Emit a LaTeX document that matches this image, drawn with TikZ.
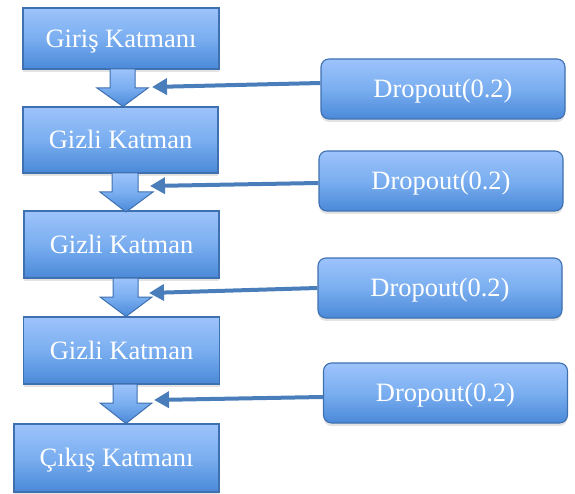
\documentclass[tikz,border=0pt]{standalone}
\usepackage{fontspec}
\setmainfont{Liberation Serif}
\usetikzlibrary{shadows,arrows.meta}
\definecolor{boxtop}{HTML}{9DC3FB}
\definecolor{boxmid}{HTML}{7AAEF0}
\definecolor{boxbot}{HTML}{4A89D8}
\definecolor{boxline}{HTML}{3F70B0}
\definecolor{linkblue}{HTML}{4A7EBB}
\tikzset{
  layerbox/.style={draw=boxline, line width=1.1pt, top color=boxtop,
    bottom color=boxbot, middle color=boxmid, text=white,
    font=\fontsize{26.5}{30}\selectfont, inner sep=0pt,
    text height=17.5pt, text depth=0pt,
    drop shadow={shadow xshift=0pt, shadow yshift=-3pt, opacity=0.22}},
  dropbox/.style={layerbox, rounded corners=8pt,
    minimum width=244pt, minimum height=60pt},
  flow/.style={draw=boxline, line width=1pt, top color=boxtop,
    bottom color=boxbot, middle color=boxmid, line join=miter},
  link/.style={draw=linkblue, line width=4pt,
    -{Triangle[length=15pt,width=16pt]}}
}
\begin{document}
\begin{tikzpicture}[x=1pt,y=-1pt]
  \useasboundingbox (0,0) rectangle (575,494);

  % layer column
  \node[layerbox, minimum width=196pt, minimum height=61pt] (in)  at (121,38.5)  {Giriş Katmanı};
  \node[layerbox, minimum width=195pt, minimum height=66pt] (h1)  at (120.5,140) {Gizli Katman};
  \node[layerbox, minimum width=195pt, minimum height=67pt] (h2)  at (121.5,244.5) {Gizli Katman};
  \node[layerbox, minimum width=196pt, minimum height=67pt] (h3)  at (121.5,350.5) {Gizli Katman};
  \node[layerbox, minimum width=205pt, minimum height=68pt] (out) at (116.5,458) {Çıkış Katmanı};

  % dropout column
  \node[dropbox] (d1) at (443,89)  {Dropout(0.2)};
  \node[dropbox] (d2) at (441,181) {Dropout(0.2)};
  \node[dropbox] (d3) at (440,288) {Dropout(0.2)};
  \node[dropbox] (d4) at (445.5,393) {Dropout(0.2)};

  % block arrows between layers
  \path[flow] (110,69) -- (135,69) -- (135,88) -- (148,88) -- (123,106.5)
    -- (97,88) -- (110,88) -- cycle;
  \path[flow] (112,173) -- (138,173) -- (138,192) -- (153,192) -- (126,212)
    -- (100,192) -- (112,192) -- cycle;
  \path[flow] (113,278) -- (138,278) -- (138,297) -- (152,297) -- (126,316.5)
    -- (100,297) -- (113,297) -- cycle;
  \path[flow] (113,384) -- (137,384) -- (137,403) -- (152,403) -- (126,423.5)
    -- (100,403) -- (113,403) -- cycle;

  % dropout links
  \coordinate (t1) at (152,87);
  \coordinate (t2) at (150,186);
  \coordinate (t3) at (149,293);
  \coordinate (t4) at (154,400);
  \draw[link] ([yshift=6pt]d1.west) -- (t1);
  \draw[link] ([yshift=-2pt]d2.west) -- (t2);
  \draw[link] (d3.west) -- (t3);
  \draw[link] ([yshift=-4pt]d4.west) -- (t4);
\end{tikzpicture}
\end{document}
